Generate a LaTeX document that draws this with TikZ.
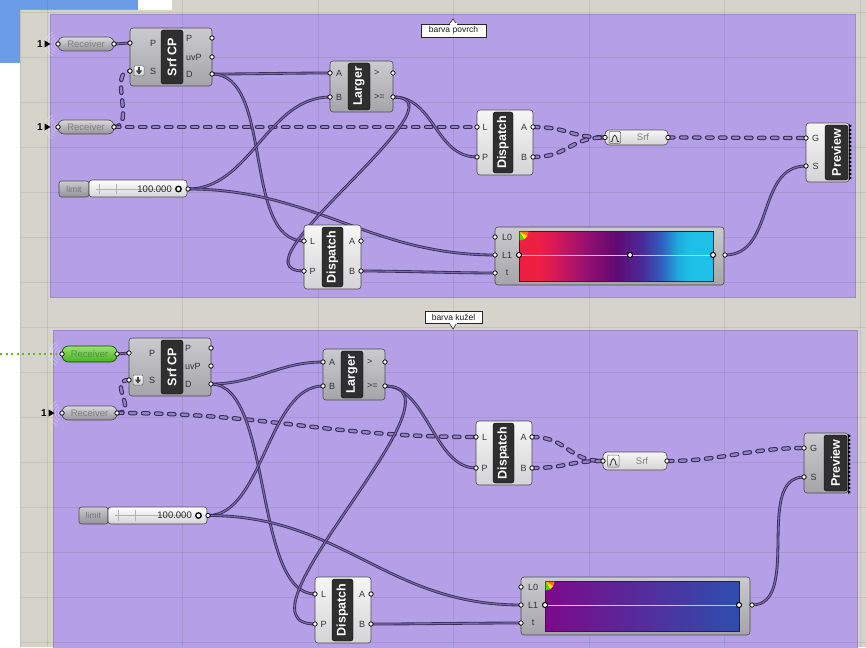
\documentclass[tikz,border=0pt]{standalone}
\usepackage{fontspec}
\setmainfont{Liberation Sans}
\usetikzlibrary{fit,calc}

\definecolor{canvasc}{HTML}{D6D3CB}
\definecolor{bluebar}{HTML}{6A9CE8}
\definecolor{groupc}{HTML}{B5A0E7}
\definecolor{groupedge}{HTML}{9C89CE}
\definecolor{wirec}{HTML}{3A2B55}
\definecolor{wirein}{HTML}{7E6AAE}
\definecolor{dashin}{HTML}{9482C6}
\definecolor{tabc}{HTML}{2F2F2F}
\definecolor{edgec}{HTML}{4A4A4E}
\definecolor{bodyA}{HTML}{CBCBCF}
\definecolor{bodyB}{HTML}{A4A4A9}
\definecolor{lightA}{HTML}{F6F6F6}
\definecolor{lightB}{HTML}{D4D4D6}
\definecolor{recvgA}{HTML}{9AE46A}
\definecolor{recvgB}{HTML}{4CAE22}
\definecolor{gA}{HTML}{EE2042}
\definecolor{gB}{HTML}{D01858}
\definecolor{gC}{HTML}{981070}
\definecolor{gD}{HTML}{600A72}
\definecolor{gE}{HTML}{4A2C9C}
\definecolor{gF}{HTML}{2E62C2}
\definecolor{gG}{HTML}{20AADE}
\definecolor{gH}{HTML}{1EC0E8}
\definecolor{gcoolA}{HTML}{7C0A8A}
\definecolor{gcoolB}{HTML}{2E4EAE}

\pgfdeclarelayer{bg}
\pgfdeclarelayer{wires}
\pgfsetlayers{bg,wires,main}

% warm gradient bar: red -> dark purple -> cyan
\pgfdeclarehorizontalshading{gradwarm}{100bp}{color(0bp)=(gA); color(25bp)=(gA); color(30bp)=(gA);
  color(35bp)=(gB); color(42bp)=(gC); color(50bp)=(gD); color(57bp)=(gE); color(62bp)=(gF);
  color(66bp)=(gG); color(69bp)=(gH); color(75bp)=(gH); color(100bp)=(gH)}

% component helpers
\newcommand{\ghtab}[6]{%
  \node[tab, fit={(#2,#3) (#4,#5)}] (#1) {};
  \node[tabtext] (#1-txt) at (#1.center) {#6};%
}
\newcommand{\ghport}[3]{\node[port] (#1) at (#2,#3) {};}
\newcommand{\ghlab}[5]{\node[plabel, anchor=#4] (#1) at (#2,#3) {#5};}
\newcommand{\ghone}[3]{%
  \node[font=\bfseries\fontsize{10}{10}\selectfont, inner sep=0pt] (#1) at (#2,#3) {1};
  \fill[black] (#2+4.5,#3-3.6) -- (#2+10.5,#3) -- (#2+4.5,#3+3.6) -- cycle;%
}
\newcommand{\ghwaves}[2]{%
  \foreach \rr in {4,7,10,13}
    \draw[white, opacity=0.45, line width=0.45pt] (#1,#2) ++(115:\rr) arc[start angle=115, end angle=245, radius=\rr];%
}
\newcommand{\ghteeth}[3]{%
  \foreach \k in {0,...,#3}
    \fill[black] (#1,{#2+4*\k}) -- (#1+2.8,{#2+2+4*\k}) -- (#1,{#2+4+4*\k}) -- cycle;%
}

\begin{document}
\begin{tikzpicture}[x=1pt,y=-1pt,
  grp/.style={fill=groupc, draw=groupedge, line width=1pt, inner sep=0pt},
  gridline/.style={draw=black, opacity=0.075, line width=0.7pt},
  glabel/.style={draw=black!85, fill=white, line width=0.6pt, inner sep=0pt},
  gtext/.style={font=\fontsize{8.5}{9}\selectfont, inner sep=0pt, text=black!90},
  body/.style={rounded corners=3pt, draw=edgec, line width=0.6pt, top color=bodyA, bottom color=bodyB, inner sep=0pt, outer sep=0pt},
  lbody/.style={body, top color=lightA, bottom color=lightB},
  tab/.style={rounded corners=2.5pt, fill=tabc, draw=black, line width=0.4pt, inner sep=0pt},
  tabtext/.style={rotate=90, text=white, font=\bfseries\fontsize{12.5}{13}\selectfont, inner sep=0pt},
  port/.style={circle, fill=white, draw=black, line width=0.75pt, minimum size=4.4pt, inner sep=0pt},
  plabel/.style={font=\fontsize{9}{10}\selectfont, text=black!80, inner sep=0pt},
  recv/.style={rounded corners=6pt, draw=edgec, line width=0.6pt, top color=bodyA!70!white, bottom color=bodyB!90!black, inner sep=0pt},
  recvg/.style={rounded corners=6.5pt, draw=black!70!green, line width=0.6pt, top color=recvgA, bottom color=recvgB, inner sep=0pt},
  recvtext/.style={font=\fontsize{9.5}{10}\selectfont, text=black!50, inner sep=0pt},
  paramcap/.style={rounded corners=4pt, draw=edgec, line width=0.6pt, top color=lightA, bottom color=lightB, inner sep=0pt},
  iconbox/.style={rounded corners=1pt, draw=black!60, line width=0.5pt, top color=white, bottom color=black!20, inner sep=0pt},
  limbox/.style={rounded corners=2.5pt, draw=edgec, line width=0.6pt, top color=bodyA, bottom color=bodyB!90!black, inner sep=0pt},
  slbody/.style={rounded corners=3pt, draw=edgec, line width=0.6pt, top color=white, bottom color=lightB, inner sep=0pt},
  handle/.style={circle, fill=white, draw=black, line width=1pt, minimum size=5pt, inner sep=0pt},
  barframe/.style={draw=black!85, line width=0.8pt, inner sep=0pt},
  wire/.style={draw=wirec, line width=0.85pt, double=wirein, double distance=1.1pt},
  dwire/.style={draw=wirec, line width=1pt, double=dashin, double distance=2.4pt, dash pattern=on 5.5pt off 7.5pt, line cap=round},
  gdots/.style={draw=green!55!black!60!yellow, line width=1.6pt, dash pattern=on 2pt off 3.5pt}
]
\useasboundingbox (0,0) rectangle (866,647);

% ---------------- canvas, groups, grid ----------------
\begin{pgfonlayer}{bg}
  \fill[white] (0,0) rectangle (866,647);
  \fill[bluebar] (0,0) rectangle (138,10);
  \fill[bluebar] (0,0) rectangle (20,63);
  \fill[canvasc] (20,10) -- (172,10) -- (172,0) -- (866,0) -- (866,647) -- (20,647) -- cycle;
  \node[grp, fit={(50,15) (855,297)}] (grp1) {};
  \node[grp, fit={(53,330) (857,655)}] (grp2) {};
  \foreach \gx in {47,182.5,318,453.5,589,724.5,860}
    \draw[gridline] (\gx,0) -- (\gx,647);
  \foreach \gy in {12,57,...,642}
    \draw[gridline] (20,\gy) -- (866,\gy);
  \draw[black!25, line width=0.6pt] (20,10) -- (20,647);
\end{pgfonlayer}

% group captions
\fill[white, draw=black!85, line width=0.6pt] (449,24.5) -- (453,19) -- (457,24.5);
\node[glabel, fit={(421,24) (486,37)}] (cap1) {};
\fill[white] (449.5,23.5) rectangle (456.5,25);
\node[gtext] (cap1-t) at (cap1.center) {barva povrch};
\fill[white, draw=black!85, line width=0.6pt] (449,322.5) -- (453,329) -- (457,322.5);
\node[glabel, fit={(425,311) (482,323)}] (cap2) {};
\fill[white] (449.5,322) rectangle (456.5,323.6);
\node[gtext] (cap2-t) at (cap2.center) {barva kužel};

% ================= group 1 : barva povrch =================
% receivers
\ghwaves{58}{44}
\node[recv, fit={(58,37) (114,51)}] (rA1) {};
\node[recvtext] (rA1-t) at (rA1.center) {Receiver};
\ghport{rA1-in}{58}{44} \ghport{rA1-out}{114}{44}
\ghone{rA1-n}{40}{44}

\ghwaves{58}{127}
\node[recv, fit={(58,120) (114,134)}] (rB1) {};
\node[recvtext] (rB1-t) at (rB1.center) {Receiver};
\ghport{rB1-in}{58}{127} \ghport{rB1-out}{114}{127}
\ghone{rB1-n}{40}{127}

% Srf CP
\node[body, fit={(130,28) (212,86)}] (scp1) {};
\ghtab{scp1-tab}{161}{30}{183}{84}{Srf CP}
\ghlab{scp1-lP}{153}{43}{center}{P}
\ghlab{scp1-lS}{153}{71}{center}{S}
\ghlab{scp1-oP}{186}{38}{west}{P}
\ghlab{scp1-ouv}{186}{57}{west}{uvP}
\ghlab{scp1-oD}{186}{74}{west}{D}
\node[iconbox, fit={(134,66) (144,76)}] (scp1-icon) {};
\fill[black!75] (137.7,67.5) rectangle (140.3,71);
\fill[black!75] (135.8,70.5) -- (142.2,70.5) -- (139,74.5) -- cycle;
\ghport{scp1-P}{130}{43} \ghport{scp1-S}{130}{71}
\ghport{scp1-Po}{212}{38} \ghport{scp1-uv}{212}{57} \ghport{scp1-D}{212}{74}

% Larger
\node[body, fit={(330,61) (393,112)}] (lg1) {};
\ghtab{lg1-tab}{348}{63}{370}{110}{Larger}
\ghlab{lg1-lA}{339}{73}{center}{A}
\ghlab{lg1-lB}{339}{97}{center}{B}
\ghlab{lg1-lG}{374}{73}{west}{>}
\ghlab{lg1-lGE}{374}{97}{west}{>=}
\ghport{lg1-A}{330}{73} \ghport{lg1-B}{330}{97}
\ghport{lg1-G}{393}{73} \ghport{lg1-GE}{393}{97}

% Dispatch (upper)
\node[lbody, fit={(477,110) (533,175)}] (dp1) {};
\ghtab{dp1-tab}{493}{112}{513}{173}{Dispatch}
\ghlab{dp1-lL}{485}{127}{center}{L}
\ghlab{dp1-lP}{485}{157}{center}{P}
\ghlab{dp1-lA}{524}{127}{center}{A}
\ghlab{dp1-lB}{524}{157}{center}{B}
\ghport{dp1-L}{477}{127} \ghport{dp1-P}{477}{157}
\ghport{dp1-A}{533}{127} \ghport{dp1-B}{533}{157}

% Srf parameter
\node[paramcap, fit={(605,130) (668,145)}] (sp1) {};
\node[iconbox, fit={(609,131.5) (620.5,143.5)}] (sp1-icon) {};
\draw[black!80, line width=0.8pt] (610.5,141.5) -- (612,141.5) .. controls (613.5,133) and (616,133) .. (617.5,141.5) -- (619,141.5);
\node[recvtext] (sp1-t) at (643,137.5) {Srf};
\ghport{sp1-in}{605}{137.5} \ghport{sp1-out}{668}{137.5}

% Preview
\node[lbody, fit={(806,123) (849,182)}] (pv1) {};
\ghtab{pv1-tab}{825}{125}{848}{180}{Preview}
\ghteeth{849}{124}{13}
\ghlab{pv1-lG}{815.5}{138}{center}{G}
\ghlab{pv1-lS}{815.5}{166}{center}{S}
\ghport{pv1-G}{806}{138} \ghport{pv1-S}{806}{166}

% slider
\node[limbox, fit={(59,181) (89,197)}] (sl1-name) {};
\node[recvtext, font=\fontsize{8.5}{9}\selectfont, text=black!55] (sl1-nt) at (sl1-name.center) {limit};
\node[slbody, fit={(89,180) (187,197)}] (sl1) {};
\draw[black!30, line width=0.5pt] (96,189) -- (168,189);
\draw[black!30, line width=0.5pt] (99,184) -- (99,194) (116,184) -- (116,194);
\node[plabel, anchor=east, text=black!85, font=\fontsize{9.5}{10}\selectfont] (sl1-v) at (172,189) {100.000};
\node[handle, minimum size=5.5pt, line width=1.3pt] (sl1-h) at (178.5,189) {};
\ghport{sl1-out}{188}{189}

% Dispatch (lower)
\node[lbody, fit={(304,225) (361,289)}] (dp2) {};
\ghtab{dp2-tab}{322}{227}{343}{287}{Dispatch}
\ghlab{dp2-lL}{312.5}{241}{center}{L}
\ghlab{dp2-lP}{312.5}{271}{center}{P}
\ghlab{dp2-lA}{352}{241}{center}{A}
\ghlab{dp2-lB}{352}{271}{center}{B}
\ghport{dp2-L}{304}{241} \ghport{dp2-P}{304}{271}
\ghport{dp2-A}{361}{241} \ghport{dp2-B}{361}{271}

% gradient
\node[body, fit={(495,227) (724,285)}] (gr1) {};
\node[barframe, shade, shading=gradwarm, fit={(519,231) (713,281)}] (gr1-bar) {};
\fill[orange!90!red] (519.6,231.6) -- (528.5,231.6) arc[start angle=0, end angle=30, radius=8.9] -- cycle;
\fill[yellow!90!orange] (519.6,231.6) -- ++(30:8.9) arc[start angle=30, end angle=60, radius=8.9] -- cycle;
\fill[green!65!yellow!85!black] (519.6,231.6) -- ++(60:8.9) arc[start angle=60, end angle=90, radius=8.9] -- cycle;
\ghlab{gr1-lL0}{507}{237}{center}{L0}
\ghlab{gr1-lL1}{507}{255}{center}{L1}
\ghlab{gr1-lt}{507}{273}{center}{t}
\node[handle] (gr1-h0) at (519,255) {};
\node[handle] (gr1-h1) at (630,255) {};
\node[handle] (gr1-h2) at (713,255) {};
\draw[white!75!violet, line width=0.6pt] (gr1-h0) -- (gr1-h1);
\draw[white!75!violet, line width=0.6pt] (gr1-h1) -- (gr1-h2);
\ghport{gr1-L0}{495}{237} \ghport{gr1-L1}{495}{255} \ghport{gr1-t}{495}{273}
\ghport{gr1-out}{725}{255}

% ================= group 2 : barva kužel =================
\coordinate (gsrc) at (0,354);
\ghwaves{62}{354}
\node[recvg, fit={(62,346) (117,362)}] (rG2) {};
\node[recvtext, text=green!40!black!70] (rG2-t) at (rG2.center) {Receiver};
\ghport{rG2-in}{62}{354} \ghport{rG2-out}{117}{354}

\ghwaves{62}{413}
\node[recv, fit={(62,406) (117,420)}] (rB2) {};
\node[recvtext] (rB2-t) at (rB2.center) {Receiver};
\ghport{rB2-in}{62}{413} \ghport{rB2-out}{117}{413}
\ghone{rB2-n}{44}{413}

% Srf CP
\node[body, fit={(129,338) (211,396)}] (scp2) {};
\ghtab{scp2-tab}{161}{340}{183}{394}{Srf CP}
\ghlab{scp2-lP}{152}{353}{center}{P}
\ghlab{scp2-lS}{152}{380}{center}{S}
\ghlab{scp2-oP}{185}{348}{west}{P}
\ghlab{scp2-ouv}{185}{366}{west}{uvP}
\ghlab{scp2-oD}{185}{384}{west}{D}
\node[iconbox, fit={(133,375) (143,385)}] (scp2-icon) {};
\fill[black!75] (136.7,376.5) rectangle (139.3,380);
\fill[black!75] (134.8,379.5) -- (141.2,379.5) -- (138,383.5) -- cycle;
\ghport{scp2-P}{129}{353} \ghport{scp2-S}{129}{380}
\ghport{scp2-Po}{211}{348} \ghport{scp2-uv}{211}{366} \ghport{scp2-D}{211}{384}

% Larger
\node[body, fit={(323,349) (385,400)}] (lg2) {};
\ghtab{lg2-tab}{341}{351}{363}{398}{Larger}
\ghlab{lg2-lA}{332}{362}{center}{A}
\ghlab{lg2-lB}{332}{386}{center}{B}
\ghlab{lg2-lG}{367}{362}{west}{>}
\ghlab{lg2-lGE}{367}{386}{west}{>=}
\ghport{lg2-A}{323}{362} \ghport{lg2-B}{323}{386}
\ghport{lg2-G}{385}{362} \ghport{lg2-GE}{385}{386}

% Dispatch (upper)
\node[lbody, fit={(476,421) (532,485)}] (dp3) {};
\ghtab{dp3-tab}{493}{423}{514}{483}{Dispatch}
\ghlab{dp3-lL}{484.5}{437}{center}{L}
\ghlab{dp3-lP}{484.5}{468}{center}{P}
\ghlab{dp3-lA}{523.5}{437}{center}{A}
\ghlab{dp3-lB}{523.5}{468}{center}{B}
\ghport{dp3-L}{476}{437} \ghport{dp3-P}{476}{468}
\ghport{dp3-A}{532}{437} \ghport{dp3-B}{532}{468}

% Srf parameter
\node[paramcap, fit={(603,452) (667,470)}] (sp2) {};
\node[iconbox, fit={(607.5,455) (619,467)}] (sp2-icon) {};
\draw[black!80, line width=0.8pt] (609,465) -- (610.5,465) .. controls (612,456.5) and (614.5,456.5) .. (616,465) -- (617.5,465);
\node[recvtext] (sp2-t) at (642,461) {Srf};
\ghport{sp2-in}{603}{461} \ghport{sp2-out}{667}{461}

% Preview
\node[body, fit={(804,433) (848,493)}] (pv2) {};
\ghtab{pv2-tab}{824}{435}{847}{491}{Preview}
\ghteeth{848}{434}{14}
\ghlab{pv2-lG}{813.5}{448}{center}{G}
\ghlab{pv2-lS}{813.5}{477}{center}{S}
\ghport{pv2-G}{804}{448} \ghport{pv2-S}{804}{477}

% slider
\node[limbox, fit={(79,507) (108,524)}] (sl2-name) {};
\node[recvtext, font=\fontsize{8.5}{9}\selectfont, text=black!55] (sl2-nt) at (sl2-name.center) {limit};
\node[slbody, fit={(108,507) (207,524)}] (sl2) {};
\draw[black!30, line width=0.5pt] (115,515.5) -- (188,515.5);
\draw[black!30, line width=0.5pt] (118,510) -- (118,521) (135,510) -- (135,521);
\node[plabel, anchor=east, text=black!85, font=\fontsize{9.5}{10}\selectfont] (sl2-v) at (192,515.5) {100.000};
\node[handle, minimum size=5.5pt, line width=1.3pt] (sl2-h) at (198.5,515.5) {};
\ghport{sl2-out}{208}{515.5}

% Dispatch (lower)
\node[lbody, fit={(315,577) (371,643)}] (dp4) {};
\ghtab{dp4-tab}{332}{579}{353}{641}{Dispatch}
\ghlab{dp4-lL}{323.5}{594}{center}{L}
\ghlab{dp4-lP}{323.5}{624}{center}{P}
\ghlab{dp4-lA}{362}{594}{center}{A}
\ghlab{dp4-lB}{362}{624}{center}{B}
\ghport{dp4-L}{315}{594} \ghport{dp4-P}{315}{624}
\ghport{dp4-A}{371}{594} \ghport{dp4-B}{371}{624}

% gradient
\node[body, fit={(521,577) (750,635)}] (gr2) {};
\node[barframe, left color=gcoolA, right color=gcoolB, fit={(545,581) (739,631)}] (gr2-bar) {};
\fill[orange!90!red] (545.6,581.6) -- (554.5,581.6) arc[start angle=0, end angle=30, radius=8.9] -- cycle;
\fill[yellow!90!orange] (545.6,581.6) -- ++(30:8.9) arc[start angle=30, end angle=60, radius=8.9] -- cycle;
\fill[green!65!yellow!85!black] (545.6,581.6) -- ++(60:8.9) arc[start angle=60, end angle=90, radius=8.9] -- cycle;
\ghlab{gr2-lL0}{533}{587}{center}{L0}
\ghlab{gr2-lL1}{533}{605}{center}{L1}
\ghlab{gr2-lt}{533}{623}{center}{t}
\node[handle] (gr2-h0) at (545,605) {};
\node[handle] (gr2-h1) at (739,605) {};
\draw[white!75!violet, line width=0.6pt] (gr2-h0) -- (gr2-h1);
\ghport{gr2-L0}{521}{587} \ghport{gr2-L1}{521}{605} \ghport{gr2-t}{521}{623}
\ghport{gr2-out}{752}{605}

% ================= wires =================
\begin{pgfonlayer}{wires}
  % group 1
  \draw[wire] (rA1-out.center) .. controls +(8,0) and +(-8,0) .. (scp1-P.center);
  \draw[dwire] (rB1-out.center) .. controls +(22,0) and +(-22,0) .. (scp1-S.center);
  \draw[dwire] (rB1-out.center) -- (dp1-L.center);
  \draw[wire] (scp1-D.center) .. controls +(40,0) and +(-40,0) .. (lg1-A.center);
  \draw[wire] (scp1-D.center) .. controls +(62,0) and +(-62,0) .. (dp2-L.center);
  \draw[wire] (sl1-out.center) .. controls +(62,0) and +(-62,0) .. (lg1-B.center);
  \draw[wire] (sl1-out.center) .. controls +(125,0) and +(-125,0) .. (gr1-L1.center);
  \draw[wire] (lg1-GE.center) .. controls +(42,0) and +(-42,0) .. (dp1-P.center);
  \draw[wire] (lg1-GE.center) .. controls +(80,0) and +(-80,0) .. (dp2-P.center);
  \draw[wire] (dp2-B.center) .. controls +(40,0) and +(-40,0) .. (gr1-t.center);
  \draw[wire] (gr1-out.center) .. controls +(50,0) and +(-50,0) .. (pv1-S.center);
  \draw[dwire] (dp1-A.center) .. controls +(36,0) and +(-36,0) .. (sp1-in.center);
  \draw[dwire] (dp1-B.center) .. controls +(36,0) and +(-36,0) .. (sp1-in.center);
  \draw[dwire] (sp1-out.center) .. controls +(50,0) and +(-50,0) .. (pv1-G.center);
  % group 2
  \draw[gdots] (gsrc) -- (rG2-in.center);
  \draw[wire] (rG2-out.center) .. controls +(6,0) and +(-6,0) .. (scp2-P.center);
  \draw[dwire] (rB2-out.center) .. controls +(22,0) and +(-22,0) .. (scp2-S.center);
  \draw[dwire] (rB2-out.center) .. controls +(150,0) and +(-150,0) .. (dp3-L.center);
  \draw[wire] (scp2-D.center) .. controls +(45,0) and +(-45,0) .. (lg2-A.center);
  \draw[wire] (scp2-D.center) .. controls +(62,0) and +(-62,0) .. (dp4-L.center);
  \draw[wire] (sl2-out.center) .. controls +(55,0) and +(-55,0) .. (lg2-B.center);
  \draw[wire] (sl2-out.center) .. controls +(135,0) and +(-135,0) .. (gr2-L1.center);
  \draw[wire] (lg2-GE.center) .. controls +(42,0) and +(-42,0) .. (dp3-P.center);
  \draw[wire] (lg2-GE.center) .. controls +(92,0) and +(-92,0) .. (dp4-P.center);
  \draw[wire] (dp4-B.center) .. controls +(50,0) and +(-50,0) .. (gr2-t.center);
  \draw[wire] (gr2-out.center) .. controls +(50,0) and +(-50,0) .. (pv2-S.center);
  \draw[dwire] (dp3-A.center) .. controls +(36,0) and +(-36,0) .. (sp2-in.center);
  \draw[dwire] (dp3-B.center) .. controls +(36,0) and +(-36,0) .. (sp2-in.center);
  \draw[dwire] (sp2-out.center) .. controls +(55,0) and +(-55,0) .. (pv2-G.center);
\end{pgfonlayer}
\end{tikzpicture}
\end{document}
